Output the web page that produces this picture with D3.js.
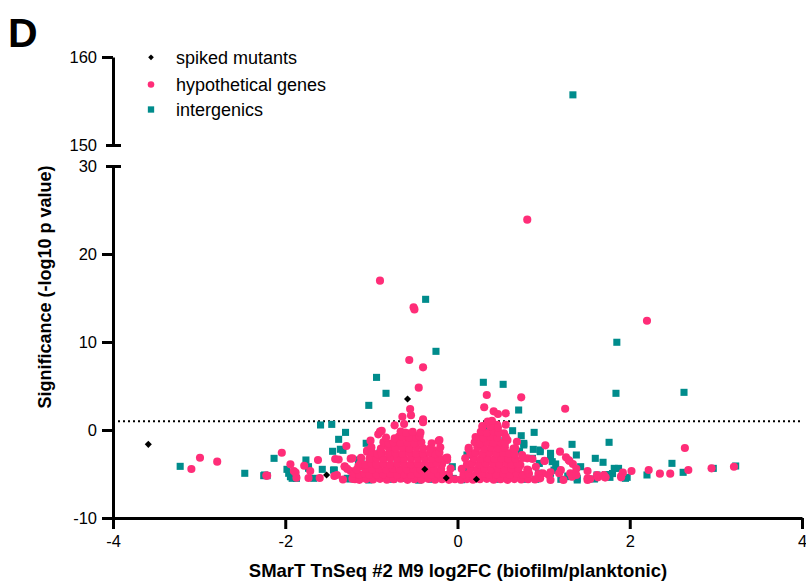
<!DOCTYPE html>
<html>
<head>
<meta charset="utf-8">
<script src="https://cdn.jsdelivr.net/npm/d3@7"></script>
<style>
  body { margin: 0; background: #fff; }
  text { font-family: Arial, "Liberation Sans", Helvetica, sans-serif; }
</style>
</head>
<body>
<svg id="chart" width="806" height="581"></svg>
<script>
// log2 fold change (biofilm/planktonic) vs significance (-log10 p value)
const spikedMutants = [
  [-3.59,-1.63],[-0.58,3.52],[-1.52,-5.11],[-0.38,-4.47],[-0.13,-5.45],[0.22,-5.6]
];

const intergenics = [
  [1.34,155.7],
  [-0.37,14.85],[-0.25,8.94],[-0.94,5.98],[-0.83,4.17],[-1.03,2.8],[0.3,5.42],[0.53,5.19],
  [0.71,2.27],[1.85,9.97],[1.84,4.17],[2.63,4.28],
  [-3.22,-4.13],[-2.47,-4.92],[-2.25,-5.19],[-2.21,-5.19],[-2.13,-3.22],[-2.24,-5.11],
  [-1.98,-4.47],[-1.96,-4.92],[-1.94,-5.31],[-1.92,-5.49],[-1.87,-5.49],[-1.76,-3.41],
  [-1.73,-4.17],[-1.73,-4.35],[-1.67,-5.49],[-1.59,0.57],[-1.46,0.64],[-1.57,-4.47],
  [-1.3,-0.27],[-1.38,-1.06],[-1.45,-2.42],[-1.33,-2.31],[-1.36,-2.19],[-1.43,-4.55],
  [-1.44,-4.55],[-1.25,-5.57],[-1.28,-5.49],[-1.15,-3.41],[-1.15,-4.17],[-1.06,-1.51],
  [-1.12,-3.41],[-1.03,-5.68],[-1.1,-5.3],[-1.2,-4.9],[-0.06,-4.17],[0.11,-2.84],
  [-1.0,-5.6],[-0.9,-5.3],[-0.75,-5.6],[-0.6,-5.5],[-0.45,-5.7],[-0.3,-5.6],[-0.2,-4.8],
  [-0.05,-5.5],[0.05,-5.65],[0.1,-4.6],[-0.7,-3.5],[-0.9,-2.6],
  [0.36,0.3],[0.64,-0.08],[0.74,-0.65],[0.89,-0.27],[0.77,-1.52],[0.77,-1.7],[0.88,-2.2],
  [0.96,-2.46],[0.96,-2.27],[1.08,-2.65],[1.08,-3.03],[1.1,-3.6],[0.87,-3.22],[1.08,-4.92],
  [0.6,-2.65],[0.72,-2.4],[0.94,-4.9],[0.91,-5.6],[0.45,-5.6],[0.6,-5.3],[0.7,-4.5],
  [0.8,-5.6],[0.95,-3.8],[0.65,-3.6],[0.5,-2.2],[0.55,-1.2],[0.25,-1.5],
  [1.33,-1.63],[1.38,-2.84],[1.43,-4.17],[1.14,-3.86],[1.16,-4.55],[1.12,-4.55],
  [1.28,-5.23],[1.3,-5.3],[1.39,-5.49],[1.39,-5.68],[1.2,-5.6],[1.6,-3.22],[1.69,-3.67],
  [1.76,-1.4],[1.62,-5.11],[1.72,-5.06],[1.59,-5.57],[1.8,-4.95],[1.77,-5.38],[1.82,-4.36],
  [1.87,-4.36],[1.95,-5.49],[1.97,-5.38],[2.2,-5.11],[2.49,-3.79],[2.62,-4.81],[2.97,-4.36],
  [3.23,-4.09]
];

const hypotheticalGenes = [
  // isolated hits
  [0.81,23.9],[-0.9,16.97],[-0.51,13.94],[-0.5,13.7],[-0.56,7.95],[-0.4,7.12],[-0.45,4.81],
  [-0.55,2.39],[0.34,3.98],[0.74,3.71],[0.31,2.58],[1.25,2.42],[2.2,12.42],
  [-0.64,1.51],[-0.54,1.67],[-0.62,0.68],[-0.73,0.53],[-0.4,1.22],[-0.4,0.88],[-0.88,-0.08],
  [-0.92,-0.49],[-0.61,-0.3],[-1.01,-1.21],[-0.68,-0.76],[-0.51,-0.57],[-0.49,-0.95],
  [-0.84,-1.7],[-0.7,-1.52],[-0.22,-1.25],[-1.05,-2.46],[-1.05,-2.35],[-1.02,-3.22],
  [-1.14,-4.17],[-1.17,-5.3],[-0.95,-3.03],[-0.76,-2.27],[-0.57,-2.46],[-0.41,-2.65],
  [-0.28,-2.27],[-0.14,-3.22],[-0.9,-0.19],[-0.21,-1.14],[-0.12,-3.41],
  [0.42,2.12],[0.47,1.82],[0.56,1.89],[0.29,0.45],[0.46,0.6],[0.56,0.6],[0.54,-0.38],
  [0.58,-1.14],[0.28,-0.76],[0.4,-0.95],[0.27,-1.7],[0.13,-2.2],[0.44,-1.52],[0.69,-1.33],
  [0.67,-2.08],[1.02,-1.74],[1.01,-3.49],[0.81,-3.22],[0.73,-3.98],[0.91,-4.17],[0.99,-4.92],
  [0.66,-4.85],[0.54,-5.11],[1.19,-2.46],[1.26,-3.1],[1.3,-3.52],[1.34,-3.86],[1.01,-3.52],
  [1.08,-4.81],[1.2,-4.55],[1.31,-4.92],[1.51,-4.66],[1.54,-5.57],[1.63,-5.38],[1.71,-5.38],
  [1.9,-5.23],[2.02,-4.66],[2.22,-4.55],[1.33,-5.3],[1.51,-5.68],[1.23,-5.68],[1.08,-5.68],
  [0.75,-2.84],[0.87,-3.3],[1.29,-3.41],[1.38,-4.41],[0.94,-5.0],[0.82,-4.55],[1.06,-5.1],
  [1.18,-4.92],[0.96,-5.49],[1.38,-5.11],[1.51,-5.49],[1.62,-5.11],[1.7,-5.11],[1.72,-5.38],
  [1.92,-4.85],[1.9,-5.38],[2.35,-4.96],[2.47,-4.96],[2.64,-2.05],[2.68,-4.55],[2.95,-4.36],
  [3.21,-4.17],
  [-3.09,-4.43],[-2.99,-3.15],[-2.79,-3.6],[-2.21,-5.19],[-2.22,-5.18],[-2.04,-2.58],
  [-1.94,-3.9],[-1.9,-4.66],[-1.88,-4.85],[-1.87,-5.42],[-1.78,-4.06],[-1.71,-4.66],
  [-1.73,-5.45],[-1.62,-3.41],[-1.6,-5.45],[-1.29,-1.82],[-1.42,-3.3],[-1.38,-3.35],
  [-1.24,-3.26],[-1.22,-3.22],[-1.31,-4.13],[-1.31,-4.17],[-1.24,-4.66],[-1.43,-5.23],
  [-1.4,-5.11],[-1.18,-5.57],[-1.19,-5.6],[-1.15,-4.09],
  // left cluster, bottom rows upward
  [-1.33,-5.62],[-1.22,-5.55],[-1.14,-5.66],[-1.06,-5.58],[-0.98,-5.63],[-0.90,-5.55],
  [-0.82,-5.65],[-0.74,-5.6],[-0.66,-5.54],[-0.58,-5.66],[-0.50,-5.6],[-0.42,-5.64],
  [-0.34,-5.55],[-0.26,-5.65],[-0.18,-5.6],[-0.10,-5.66],[-0.03,-5.6],[0.04,-5.64],
  [-1.21,-5.0],[-1.14,-5.08],[-1.08,-4.98],[-1.02,-5.1],[-0.94,-5.02],[-0.86,-5.06],
  [-0.78,-4.96],[-0.70,-5.08],[-0.62,-5.02],[-0.54,-5.1],[-0.46,-4.98],[-0.38,-5.05],
  [-0.30,-5.1],[-0.22,-5.0],[-0.16,-5.08],[-0.10,-5.02],
  [-1.28,-4.42],[-1.17,-4.5],[-1.07,-4.4],[-0.99,-4.48],[-0.91,-4.44],[-0.83,-4.52],
  [-0.75,-4.4],[-0.67,-4.46],[-0.59,-4.5],[-0.51,-4.42],[-0.43,-4.48],[-0.35,-4.4],
  [-0.27,-4.5],[-0.19,-4.44],[-0.08,-4.38],
  [-1.13,-3.82],[-1.07,-3.94],[-1.0,-3.8],[-0.94,-3.88],[-0.86,-3.84],[-0.78,-3.92],
  [-0.70,-3.8],[-0.62,-3.86],[-0.54,-3.9],[-0.46,-3.8],[-0.38,-3.88],[-0.30,-3.84],
  [-0.18,-3.9],[-0.24,-3.76],
  [-1.12,-3.16],[-1.02,-3.28],[-0.94,-3.22],[-0.86,-3.3],[-0.78,-3.2],[-0.70,-3.26],
  [-0.62,-3.3],[-0.54,-3.2],[-0.46,-3.28],[-0.38,-3.22],[-0.30,-3.3],[-0.22,-3.24],
  [-0.12,-3.12],
  [-0.99,-2.58],[-0.93,-2.74],[-0.88,-2.6],[-0.80,-2.68],[-0.72,-2.64],[-0.64,-2.7],
  [-0.56,-2.6],[-0.48,-2.66],[-0.40,-2.7],[-0.32,-2.62],[-0.26,-2.74],[-0.21,-2.56],
  [-1.0,-1.98],[-0.89,-2.12],[-0.80,-2.0],[-0.72,-2.08],[-0.64,-2.04],[-0.56,-2.1],
  [-0.48,-2.0],[-0.40,-2.06],[-0.32,-2.1],[-0.2,-1.96],
  [-0.86,-1.38],[-0.80,-1.54],[-0.74,-1.4],[-0.66,-1.48],[-0.58,-1.44],[-0.50,-1.5],
  [-0.42,-1.4],[-0.3,-1.52],
  [-0.83,-0.86],[-0.73,-0.94],[-0.64,-0.8],[-0.56,-0.88],[-0.48,-0.84],[-0.44,-0.74],
  [-0.66,-0.18],[-0.59,-0.34],[-0.52,-0.2],[-0.43,-0.3],
  // right cluster, bottom rows upward
  [0.11,-5.58],[0.18,-5.65],[0.26,-5.6],[0.34,-5.55],[0.42,-5.64],[0.50,-5.6],[0.58,-5.66],
  [0.66,-5.58],[0.74,-5.63],[0.82,-5.6],[0.90,-5.62],
  [0.07,-5.06],[0.13,-4.98],[0.21,-5.08],[0.29,-5.0],[0.37,-5.1],[0.45,-5.02],[0.53,-4.96],
  [0.61,-5.06],[0.69,-5.0],[0.76,-5.1],[0.83,-4.98],
  [0.05,-4.42],[0.15,-4.4],[0.23,-4.5],[0.31,-4.42],[0.39,-4.48],[0.47,-4.4],[0.55,-4.5],
  [0.63,-4.44],[0.71,-4.36],[0.81,-4.5],
  [0.11,-3.9],[0.17,-3.8],[0.25,-3.9],[0.33,-3.84],[0.41,-3.8],[0.49,-3.88],[0.57,-3.82],
  [0.63,-3.94],[0.70,-3.8],
  [0.09,-3.22],[0.19,-3.2],[0.27,-3.3],[0.35,-3.22],[0.43,-3.28],[0.51,-3.2],[0.59,-3.26],
  [0.67,-3.3],[0.76,-3.18],
  [0.15,-2.7],[0.21,-2.6],[0.29,-2.7],[0.37,-2.62],[0.45,-2.68],[0.53,-2.6],[0.60,-2.66],
  [0.66,-2.74],
  [0.13,-2.02],[0.23,-2.0],[0.31,-2.1],[0.39,-2.02],[0.47,-2.08],[0.55,-2.0],[0.65,-2.1],
  [0.2,-1.4],[0.26,-1.54],[0.34,-1.4],[0.42,-1.48],[0.50,-1.42],[0.55,-1.56],
  [0.21,-0.8],[0.30,-0.92],[0.38,-0.8],[0.46,-0.88],[0.56,-0.78],
  [0.27,-0.2],[0.34,-0.34],[0.42,-0.2],[0.48,-0.3],
  [0.29,0.36],[0.38,0.42],[0.47,0.28],
  [0.35,0.96],[0.40,1.04]
];

const xTicks = [-4, -2, 0, 2, 4];
const yTicksLower = [-10, 0, 10, 20, 30];
const yTicksUpper = [150, 160];
const significanceCutoff = 1;   // -log10(0.1)

const legendItems = [
  { label: "spiked mutants", kind: "spiked" },
  { label: "hypothetical genes", kind: "hypothetical" },
  { label: "intergenics", kind: "intergenic" }
];

const colors = { spiked: "#000000", hypothetical: "#FF2D78", intergenic: "#008C8C" };

const svg = d3.select("#chart");

// x scale and the two pieces of the broken y axis
const x = d3.scaleLinear().domain([-4, 4]).range([113, 802]);
const yLow = d3.scaleLinear().domain([-10, 30]).range([518, 166]);
const yHigh = d3.scaleLinear().domain([150, 160]).range([145, 57]);
const yOf = v => (v >= 150 ? yHigh(v) : yLow(v));

const symbols = {
  spiked: d3.symbol().type(d3.symbolSquare).size(25),
  hypothetical: d3.symbol().type(d3.symbolCircle).size(52),
  intergenic: d3.symbol().type(d3.symbolSquare).size(50)
};
const legendSymbols = {
  spiked: d3.symbol().type(d3.symbolSquare).size(16),
  hypothetical: d3.symbol().type(d3.symbolCircle).size(34),
  intergenic: d3.symbol().type(d3.symbolSquare).size(40)
};

// panel letter
svg.append("text")
  .attr("x", 8).attr("y", 47)
  .attr("font-size", 41).attr("font-weight", "bold")
  .text("D");

// significance threshold
svg.append("line")
  .attr("x1", x(-4)).attr("x2", x(4))
  .attr("y1", yLow(significanceCutoff)).attr("y2", yLow(significanceCutoff))
  .attr("stroke", "#000").attr("stroke-width", 2)
  .attr("stroke-dasharray", "2,3");

// points: intergenic, then hypothetical, then spiked on top
function drawSeries(data, kind) {
  const rot = kind === "spiked" ? " rotate(45)" : "";
  svg.append("g").selectAll("path")
    .data(data)
    .join("path")
    .attr("d", symbols[kind])
    .attr("transform", d => `translate(${x(d[0])},${yOf(d[1])})${rot}`)
    .attr("fill", colors[kind]);
}
drawSeries(intergenics, "intergenic");
drawSeries(hypotheticalGenes, "hypothetical");
drawSeries(spikedMutants, "spiked");

// axes
const fmt = d => String(d);
function styleAxis(g) {
  g.selectAll("path.domain").attr("stroke-width", 3).attr("stroke", "#000");
  g.selectAll(".tick line").attr("stroke-width", 3).attr("stroke", "#000");
  g.selectAll(".tick text").attr("font-size", 16.5).attr("fill", "#000")
    .attr("font-family", "Arial, 'Liberation Sans', sans-serif");
}

const xAxis = svg.append("g")
  .attr("transform", `translate(0,${yLow(-10)})`)
  .call(d3.axisBottom(x).tickValues(xTicks).tickFormat(fmt)
    .tickSize(11).tickSizeOuter(0).tickPadding(6));
styleAxis(xAxis);

const yAxisLow = svg.append("g")
  .attr("transform", `translate(${x(-4)},0)`)
  .call(d3.axisLeft(yLow).tickValues(yTicksLower).tickFormat(fmt)
    .tickSize(11).tickSizeOuter(0).tickPadding(5));
styleAxis(yAxisLow);

const yAxisHigh = svg.append("g")
  .attr("transform", `translate(${x(-4)},0)`)
  .call(d3.axisLeft(yHigh).tickValues(yTicksUpper).tickFormat(fmt)
    .tickSize(11).tickSizeOuter(0).tickPadding(5));
styleAxis(yAxisHigh);

// break caps at the ends of the two axis pieces
yAxisLow.selectAll(".tick").filter(d => d === 30).select("line")
  .attr("x1", -7).attr("x2", 8);
yAxisHigh.selectAll(".tick").filter(d => d === 150).select("line")
  .attr("x1", -7).attr("x2", 8);

// axis titles
svg.append("text")
  .attr("transform", "translate(51,287) rotate(-90)")
  .attr("text-anchor", "middle")
  .attr("font-size", 18).attr("font-weight", "bold")
  .text("Significance (-log10 p value)");

svg.append("text")
  .attr("x", 458).attr("y", 577)
  .attr("text-anchor", "middle")
  .attr("font-size", 18.5).attr("font-weight", "bold")
  .text("SMarT TnSeq #2 M9 log2FC (biofilm/planktonic)");

// legend
const legend = svg.append("g");
const legendRows = legend.selectAll("g")
  .data(legendItems)
  .join("g")
  .attr("transform", (d, i) => `translate(151,${[57.3, 84.5, 109.5][i]})`);
legendRows.append("path")
  .attr("d", d => legendSymbols[d.kind]())
  .attr("transform", d => d.kind === "spiked" ? "rotate(45)" : null)
  .attr("fill", d => colors[d.kind]);
legendRows.append("text")
  .attr("x", 25).attr("y", 6.5)
  .attr("font-size", 18)
  .text(d => d.label);
</script>
</body>
</html>
